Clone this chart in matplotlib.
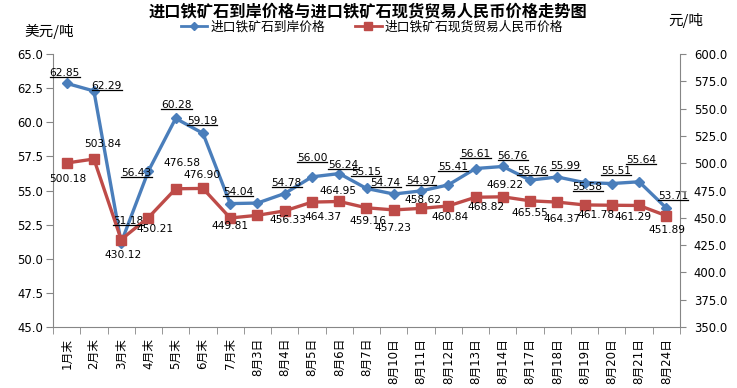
import matplotlib
matplotlib.use("Agg")
import matplotlib.pyplot as plt
from matplotlib.lines import Line2D
from matplotlib.ticker import FormatStrFormatter, MultipleLocator, FixedLocator

plt.rcParams['font.family'] = ['DejaVu Sans', 'Noto Sans CJK SC']

categories = ["1月末", "2月末", "3月末", "4月末", "5月末", "6月末", "7月末",
              "8月3日", "8月4日", "8月5日", "8月6日", "8月7日", "8月10日",
              "8月11日", "8月12日", "8月13日", "8月14日", "8月17日", "8月18日",
              "8月19日", "8月20日", "8月21日", "8月24日"]
usd_price = [62.85, 62.29, 51.18, 56.43, 60.28, 59.19, 54.04, 54.08, 54.78,
             56.00, 56.24, 55.15, 54.74, 54.97, 55.41, 56.61, 56.76, 55.76,
             55.99, 55.58, 55.51, 55.64, 53.71]
usd_labeled = [True] * 7 + [False] + [True] * 15
rmb_price = [500.18, 503.84, 430.12, 450.21, 476.58, 476.90, 449.81, 452.3,
             456.33, 464.37, 464.95, 459.16, 457.23, 458.62, 460.84, 468.82,
             469.22, 465.55, 464.37, 461.78, 461.5, 461.29, 451.89]
rmb_labeled = [True] * 7 + [False] + [True] * 12 + [False] + [True] * 2

series_names = ["进口铁矿石到岸价格", "进口铁矿石现货贸易人民币价格"]
title = "进口铁矿石到岸价格与进口铁矿石现货贸易人民币价格走势图"

# label offsets in pixels (dx right, dy down)
usd_off = [(-2, -10), (13, -5), (7, -22), (-12, 2), (1, -13), (-1, -12), (8, -12),
           (0, -12), (2, -11), (0, -19), (4, -9), (0, -16), (-8, -11), (0, -10),
           (5, -18), (0, -15), (10, -10), (2, -9), (8, -11), (3, 4), (4, -13),
           (2, -22), (7, -12)]
rmb_off = [(1, 16), (9, -15), (2, 15), (7, 11), (6, -26), (-1, -13), (0, 8),
           (0, 10), (3, 9), (11, 15), (-1, -10), (2, 13), (-1, 18), (2, -8),
           (2, 11), (11, 10), (2, -12), (0, 12), (5, 17), (11, 10), (0, 12),
           (-6, 12), (1, 14)]

blue = '#4A7EBB'
red = '#BE4B48'
spine_c = '#868686'

fig = plt.figure(figsize=(7.37, 3.88), dpi=100)
W, H = 737, 388
ax = fig.add_axes([53 / W, 1 - 327 / H, (680 - 53) / W, (327 - 54) / H])
ax2 = ax.twinx()

x = list(range(len(categories)))
ax.plot(x, usd_price, color=blue, lw=2.4, marker='D', ms=5.5, mec=blue, mfc=blue,
        label=series_names[0], zorder=3)
ax2.plot(x, rmb_price, color=red, lw=2.4, marker='s', ms=7, mec=red, mfc=red,
         label=series_names[1], zorder=3)

ax.set_xlim(-0.5, len(categories) - 0.5)
ax.set_ylim(45, 65)
ax2.set_ylim(350, 600)
ax.yaxis.set_major_locator(MultipleLocator(2.5))
ax2.yaxis.set_major_locator(MultipleLocator(25))
ax.yaxis.set_major_formatter(FormatStrFormatter('%.1f'))
ax2.yaxis.set_major_formatter(FormatStrFormatter('%.1f'))

ax.set_xticks(x)
ax.set_xticklabels(categories, rotation=90, fontsize=8.5,
                   family=['DejaVu Sans', 'Noto Sans CJK SC'])
ax.tick_params(axis='x', which='major', length=0, pad=8)
ax.xaxis.set_minor_locator(FixedLocator([i - 0.5 for i in range(len(categories) + 1)]))
ax.tick_params(axis='x', which='minor', length=5, color=spine_c, direction='out')

for a in (ax, ax2):
    a.spines['top'].set_visible(False)
    for s in ('left', 'right', 'bottom'):
        a.spines[s].set_color(spine_c)
ax.spines['right'].set_visible(False)
ax2.spines['left'].set_visible(False)
ax2.spines['bottom'].set_visible(False)
ax.tick_params(axis='y', length=5, color=spine_c, labelsize=8.4, pad=2)
ax2.tick_params(axis='y', length=4, color=spine_c, labelsize=8.4, pad=6)

usd_texts = []
for i, (v, lab, (dx, dy)) in enumerate(zip(usd_price, usd_labeled, usd_off)):
    if lab:
        t = ax.annotate(f"{v:.2f}", xy=(i, v), xytext=(dx, -dy), textcoords='offset pixels',
                        ha='center', va='center', fontsize=7.7, color='black', zorder=5)
        usd_texts.append(t)
for i, (v, lab, (dx, dy)) in enumerate(zip(rmb_price, rmb_labeled, rmb_off)):
    if lab:
        ax2.annotate(f"{v:.2f}", xy=(i, v), xytext=(dx, -dy), textcoords='offset pixels',
                     ha='center', va='center', fontsize=7.7, color='black', zorder=5)

fig.text(368 / W, 1 - 11 / H, title, ha='center', va='center', fontsize=11.7,
         fontweight='bold', family=['Noto Sans CJK SC'])
fig.text(24 / W, 1 - 31 / H, "美元/吨", ha='left', va='center', fontsize=10.5,
         family=['Noto Sans CJK SC', 'DejaVu Sans'])
fig.text(668 / W, 1 - 20 / H, "元/吨", ha='left', va='center', fontsize=10.5,
         family=['Noto Sans CJK SC', 'DejaVu Sans'])

h1 = Line2D([], [], color=blue, lw=2, marker='D', ms=4.5, mec=blue, mfc=blue)
h2 = Line2D([], [], color=red, lw=2, marker='s', ms=6, mec=red, mfc=red)
fig.legend([h1, h2], series_names, loc='center', bbox_to_anchor=(372 / W, 1 - 27 / H),
           ncol=2, frameon=False, handlelength=2.1, handletextpad=0.25,
           columnspacing=2.3, prop={'family': ['Noto Sans CJK SC'], 'size': 9.2},
           borderpad=0, borderaxespad=0)

fig.canvas.draw()
renderer = fig.canvas.get_renderer()
for t in usd_texts:
    bb = t.get_window_extent(renderer)
    yy = (bb.y0 + 1.0) / H
    fig.add_artist(Line2D([bb.x0 / W, bb.x1 / W], [yy, yy], transform=fig.transFigure,
                          color='black', lw=0.9, zorder=6))

fig.savefig("out.png", dpi=100)
